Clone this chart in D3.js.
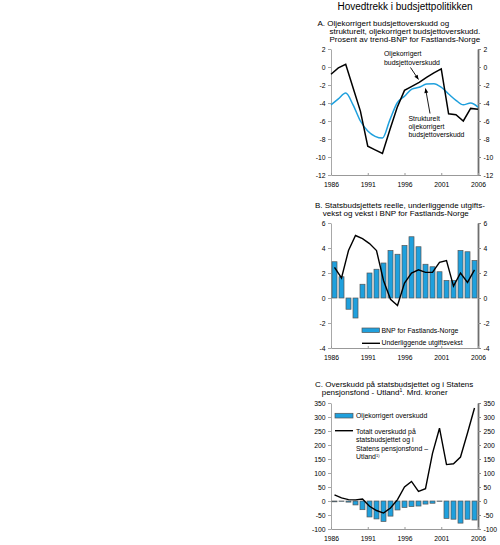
<!DOCTYPE html>
<html><head><meta charset="utf-8">
<script src="https://cdn.jsdelivr.net/npm/d3@7"></script>
<style>
body{margin:0;background:#fff}
svg text{font-family:"Liberation Sans",Arial,Helvetica,sans-serif;fill:#000}
</style>
</head><body>
<svg id="chart" width="500" height="545"></svg>
<script>
// ---------- data ----------
const years = [1986,1987,1988,1989,1990,1991,1992,1993,1994,1995,1996,1997,1998,1999,2000,2001,2002,2003,2004,2005,2006];
const yearTicks = [1986,1991,1996,2001,2006];

// Panel A: per cent of trend GDP mainland Norway
const aTicks = [2,0,-2,-4,-6,-8,-10,-12];
const oljekorrigert = [-0.8,-0.1,0.3,-2.3,-4.9,-8.8,-9.2,-9.6,-7.0,-4.5,-2.6,-2.15,-1.7,-1.15,-0.65,-0.2,-5.2,-5.3,-6.0,-4.6,-4.7];
const strukturelt   = [-4.2,-3.55,-2.9,-4.2,-6.0,-7.1,-7.7,-7.9,-5.9,-4.0,-3.25,-2.45,-2.25,-1.9,-1.85,-2.25,-3.0,-3.7,-4.2,-4.0,-4.45];

// Panel B
const bTicks = [6,4,2,0,-2,-4];
const bnpFastland   = [2.9,1.7,-0.9,-1.6,1.1,2.0,2.3,2.8,3.8,3.5,4.2,4.9,4.1,2.7,2.5,2.1,1.4,1.4,3.8,3.7,3.0];
const utgiftsvekst  = [2.45,1.6,3.8,5.0,4.75,4.35,3.8,1.4,-0.1,-0.6,1.2,2.0,2.25,2.05,2.05,2.85,3.0,0.95,2.0,1.25,2.25];

// Panel C: bn NOK
const cTicks = [350,300,250,200,150,100,50,0,-50,-100];
const oljekorrigertOverskudd = [-3,-1,-4,-14,-31,-57,-64,-73,-54,-32,-23,-20,-18,-11,-8,-1,-62,-65,-79,-65,-68];
const totaltOverskudd = [22,11,5,4,7,-19,-34,-43,-25,5,50,70,34,44,170,260,130,133,157,243,332];

// ---------- layout ----------
const svg = d3.select('#chart');
const X0 = 331, X1 = 478;
const BLUE = '#1fa0dd';
const xPoint = d3.scalePoint().domain(years).range([X0, X1]);
const xBand = d3.scaleBand().domain(years).range([X0, X1]).paddingInner(0.286).paddingOuter(0.143);
const bw = xBand.bandwidth();
const cx = d => xBand(d) + bw / 2;

function panel(top, bottom, domain, ticks) {
  const y = d3.scaleLinear().domain(domain).range([bottom, top]);
  const g = svg.append('g');
  const fmt = d => String(d);
  // left axis
  const la = g.append('g').attr('transform', `translate(${X0},0)`)
    .call(d3.axisLeft(y).tickValues(ticks).tickSize(3).tickSizeOuter(0).tickPadding(2.5).tickFormat(fmt));
  la.select('.domain').attr('stroke', '#a8a8a8');
  la.selectAll('.tick line').attr('stroke', '#a8a8a8');
  la.selectAll('text').attr('font-size', 6.8).attr('fill', '#000');
  // right axis
  const ra = g.append('g').attr('transform', `translate(${X1},0)`)
    .call(d3.axisRight(y).tickValues(ticks).tickSize(3).tickSizeOuter(0).tickPadding(2.5).tickFormat(fmt));
  ra.select('.domain').attr('stroke', '#6e6e6e').attr('stroke-width', 1.8);
  ra.selectAll('.tick line').attr('stroke', '#888');
  ra.selectAll('text').attr('font-size', 6.8).attr('fill', '#000');
  // bottom axis
  const ba = g.append('g').attr('transform', `translate(0,${bottom})`)
    .call(d3.axisBottom(xPoint).tickValues(yearTicks).tickSize(-2).tickSizeOuter(0).tickPadding(7));
  ba.select('.domain').attr('stroke', '#999');
  ba.selectAll('.tick line').attr('stroke', '#999');
  ba.selectAll('text').attr('font-size', 6.8).attr('fill', '#000');
  return y;
}

function titleLines(lines) {
  lines.forEach(l => svg.append('text').attr('x', l[0]).attr('y', l[1]).attr('font-size', l[3] || 8).text(l[2]));
}

function arrow(x1, y1, x2, y2) {
  svg.append('line').attr('x1', x1).attr('y1', y1).attr('x2', x2).attr('y2', y2)
    .attr('stroke', '#000').attr('stroke-width', 0.9);
  const a = Math.atan2(y2 - y1, x2 - x1), L = 4.5, W = 2;
  const bx = x2 - L * Math.cos(a), by = y2 - L * Math.sin(a);
  svg.append('path').attr('d', `M${x2},${y2}L${bx - W * Math.sin(a)},${by + W * Math.cos(a)}L${bx + W * Math.sin(a)},${by - W * Math.cos(a)}Z`)
    .attr('fill', '#000');
}

function bars(y, vals) {
  svg.append('g').selectAll('rect').data(years).join('rect')
    .attr('x', d => xBand(d))
    .attr('width', bw)
    .attr('y', (d, i) => Math.min(y(vals[i]), y(0)))
    .attr('height', (d, i) => Math.abs(y(vals[i]) - y(0)))
    .attr('fill', BLUE).attr('stroke', '#555').attr('stroke-width', 0.7);
}

// main title
svg.append('text').attr('x', 405).attr('y', 9.5).attr('text-anchor', 'middle').attr('font-size', 10)
  .text('Hovedtrekk i budsjettpolitikken');

// ---------- Panel A ----------
titleLines([
  [317.5, 26, 'A. Oljekorrigert budsjettoverskudd og'],
  [329.5, 34, 'strukturelt, oljekorrigert budsjettoverskudd.'],
  [329.5, 42, 'Prosent av trend-BNP for Fastlands-Norge']
]);
const yA = panel(49, 175, [-12, 2], aTicks);
svg.append('path').datum(strukturelt)
  .attr('d', d3.line().x((d, i) => xPoint(years[i])).y(d => yA(d)).curve(d3.curveMonotoneX))
  .attr('fill', 'none').attr('stroke', BLUE).attr('stroke-width', 1.5);
svg.append('path').datum(oljekorrigert)
  .attr('d', d3.line().x((d, i) => xPoint(years[i])).y(d => yA(d)))
  .attr('fill', 'none').attr('stroke', '#000').attr('stroke-width', 1.5);
titleLines([
  [384, 56, 'Oljekorrigert', 6.9],
  [384, 64.5, 'budsjettoverskudd', 6.9],
  [408.5, 120.5, 'Strukturelt', 6.9],
  [408.5, 128.8, 'oljekorrigert', 6.9],
  [408.5, 137.1, 'budsjettoverskudd', 6.9]
]);
arrow(410.5, 67.5, 418.5, 79.5);
arrow(430, 113.5, 425.5, 88.5);

// ---------- Panel B ----------
titleLines([
  [315, 208, 'B.  Statsbudsjettets reelle, underliggende utgifts-'],
  [322.7, 216, 'vekst og vekst i BNP for Fastlands-Norge']
]);
const yB = panel(223, 348, [-4, 6], bTicks);
bars(yB, bnpFastland);
svg.append('path').datum(utgiftsvekst)
  .attr('d', d3.line().x((d, i) => cx(years[i])).y(d => yB(d)))
  .attr('fill', 'none').attr('stroke', '#000').attr('stroke-width', 1.4);
svg.append('rect').attr('x', 362).attr('y', 328).attr('width', 17.5).attr('height', 4.5)
  .attr('fill', BLUE).attr('stroke', '#555').attr('stroke-width', 0.7);
svg.append('line').attr('x1', 362).attr('x2', 380).attr('y1', 343.3).attr('y2', 343.3)
  .attr('stroke', '#000').attr('stroke-width', 1.4);
titleLines([
  [381.5, 332.8, 'BNP for Fastlands-Norge', 6.9],
  [381.5, 345.3, 'Underliggende utgiftsvekst', 6.9]
]);

// ---------- Panel C ----------
svg.append('text').attr('x', 315).attr('y', 386.5).attr('font-size', 8)
  .text('C.  Overskudd på statsbudsjettet og i Statens');
const tC = svg.append('text').attr('x', 321.7).attr('y', 395).attr('font-size', 8);
tC.append('tspan').text('pensjonsfond - Utland');
tC.append('tspan').attr('font-size', 5).attr('dy', -3).text('1');
tC.append('tspan').attr('dy', 3).text('.  Mrd. kroner');

const yC = panel(403, 529, [-100, 350], cTicks);
bars(yC, oljekorrigertOverskudd);
svg.append('path').datum(totaltOverskudd)
  .attr('d', d3.line().x((d, i) => cx(years[i])).y(d => yC(d)))
  .attr('fill', 'none').attr('stroke', '#000').attr('stroke-width', 1.4);
svg.append('rect').attr('x', 335).attr('y', 413.3).attr('width', 18).attr('height', 4.7)
  .attr('fill', BLUE).attr('stroke', '#555').attr('stroke-width', 0.7);
svg.append('line').attr('x1', 335).attr('x2', 353).attr('y1', 430.7).attr('y2', 430.7)
  .attr('stroke', '#000').attr('stroke-width', 1.4);
titleLines([
  [356, 418.3, 'Oljekorrigert overskudd', 6.9],
  [356, 433.5, 'Totalt overskudd på', 6.9],
  [356, 442, 'statsbudsjettet og i', 6.9],
  [356, 450.5, 'Statens pensjonsfond –', 6.9]
]);
const tU = svg.append('text').attr('x', 356).attr('y', 459).attr('font-size', 6.9);
tU.append('tspan').text('Utland');
tU.append('tspan').attr('font-size', 4).attr('dy', -2.5).text('1)');
</script>
</body></html>
